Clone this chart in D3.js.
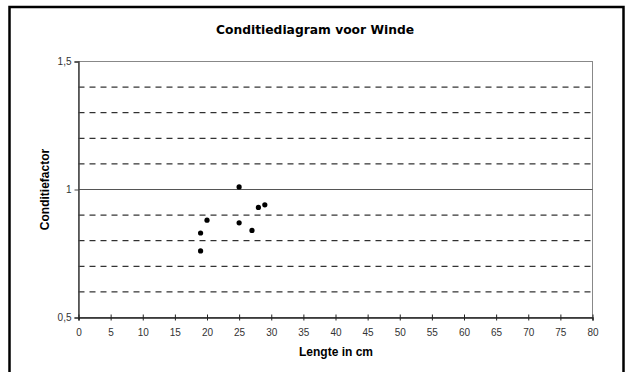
<!DOCTYPE html>
<html>
<head>
<meta charset="utf-8">
<script src="https://cdn.jsdelivr.net/npm/d3@7"></script>
<style>
  body { margin: 0; background: #fff; }
  svg { display: block; }
</style>
</head>
<body>
<svg id="chart" width="629" height="372"></svg>
<script>
// data
var lengths = [25, 28, 29, 20, 25, 19, 27, 19]
var factors = [1.01, 0.93, 0.94, 0.88, 0.87, 0.83, 0.84, 0.76]
var xTicks = d3.range(0, 81, 5)
var yTicks = [0.5, 1, 1.5]
var gridLines = [0.6, 0.7, 0.8, 0.9, 1.1, 1.2, 1.3, 1.4]

var width = 629, height = 372
var svg = d3.select("#chart")

// outer frame (open at the bottom)
svg.append("path")
  .attr("d", "M9.5,372 V7 H623.5 V372")
  .attr("fill", "none")
  .attr("stroke", "#000")
  .attr("stroke-width", 2.5)

svg.append("text")
  .attr("x", 315).attr("y", 34)
  .attr("text-anchor", "middle")
  .attr("font-family", "'DejaVu Sans', Verdana, sans-serif")
  .attr("font-weight", "bold")
  .attr("font-size", 12.3)
  .text("Conditiediagram voor Winde")

const x = d3.scaleLinear().domain([0, 80]).range([78.5, 592.5])
const y = d3.scaleLinear().domain([0.5, 1.5]).range([317.5, 61.5])

// plot frame
svg.append("rect")
  .attr("x", x(0)).attr("y", y(1.5))
  .attr("width", x(80) - x(0)).attr("height", y(0.5) - y(1.5))
  .attr("fill", "none")
  .attr("stroke", "#888")

// gridlines
svg.append("g")
  .selectAll("line")
  .data(gridLines)
  .join("line")
    .attr("x1", x(0)).attr("x2", x(80))
    .attr("y1", d => y(d)).attr("y2", d => y(d))
    .attr("stroke", "#000")
    .attr("stroke-dasharray", "6,5")

svg.append("line")
  .attr("x1", x(0)).attr("x2", x(80))
  .attr("y1", y(1)).attr("y2", y(1))
  .attr("stroke", "#555")

var tickFont = "'Liberation Sans', Arial, sans-serif"

// y axis
const yAxis = svg.append("g")
  .attr("transform", `translate(${x(0)},0)`)
  .call(d3.axisLeft(y).tickValues(yTicks).tickSize(4).tickPadding(3)
    .tickFormat(d => String(d).replace(".", ",")))
yAxis.select(".domain").attr("stroke", "#444").attr("stroke-width", 1.5)
yAxis.selectAll("line").attr("stroke", "#444")
yAxis.selectAll("text").attr("font-family", tickFont).attr("font-size", 10).attr("fill", "#333")

// x axis
const xAxis = svg.append("g")
  .attr("transform", `translate(0,${y(0.5)})`)
  .call(d3.axisBottom(x).tickValues(xTicks).tickSize(3).tickPadding(8))
xAxis.select(".domain").attr("stroke", "#222").attr("stroke-width", 1.5)
xAxis.selectAll(".tick line").attr("y1", -3).attr("stroke", "#222")
xAxis.selectAll("text").attr("font-family", tickFont).attr("font-size", 10).attr("fill", "#333")

// axis titles
svg.append("text")
  .attr("transform", `translate(49,${y(1)}) rotate(-90)`)
  .attr("text-anchor", "middle")
  .attr("font-family", tickFont)
  .attr("font-weight", "bold")
  .attr("font-size", 12)
  .text("Conditiefactor")

svg.append("text")
  .attr("x", 336).attr("y", 356)
  .attr("text-anchor", "middle")
  .attr("font-family", tickFont)
  .attr("font-weight", "bold")
  .attr("font-size", 12)
  .text("Lengte in cm")

// points
svg.append("g")
  .selectAll("circle")
  .data(lengths)
  .join("circle")
    .attr("cx", d => x(d))
    .attr("cy", (d, i) => y(factors[i]))
    .attr("r", 2.6)
    .attr("fill", "#000")
</script>
</body>
</html>
